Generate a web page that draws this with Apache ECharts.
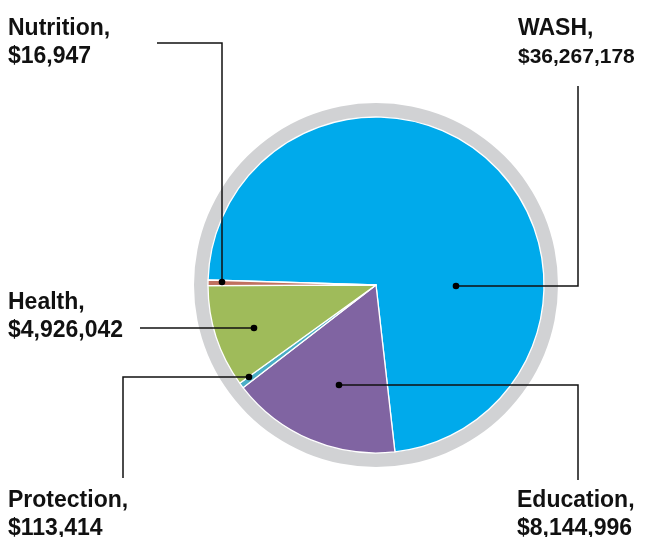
<!DOCTYPE html>
<html>
<head>
<meta charset="utf-8">
<script src="https://cdn.jsdelivr.net/npm/echarts@6/dist/echarts.min.js"></script>
<style>
  html, body { margin: 0; padding: 0; background: #fff; }
  #main { width: 648px; height: 537px; }
</style>
</head>
<body>
<div id="main"></div>
<script>
// funding by sector, clockwise from the left edge
const categories = ['WASH', 'Education', 'Protection', 'Health', 'Nutrition'];
const amounts = [36267178, 8144996, 113414, 4926042, 16947];
const sliceColors = ['#00aaeb', '#8064a2', '#4aaec6', '#9fbb5a', '#c0705f'];

// where each label block sits (top-left)
const labelSpots = {
  WASH: [518, 15],
  Education: [517, 487],
  Protection: [8, 487],
  Health: [8, 289],
  Nutrition: [8, 15]
};

// leader lines: polyline points, last point gets the dot
const callouts = [
  [[578, 86], [578, 286], [456, 286]],
  [[578, 480], [578, 385], [339, 385]],
  [[123, 478], [123, 377], [249, 377]],
  [[140, 328], [254, 328]],
  [[157, 43], [222, 43], [222, 282]]
];

const fmt = v => '$' + v.toLocaleString('en-US');
const FONT = 'Liberation Sans, Arial, sans-serif';

var myChart = echarts.init(document.getElementById('main'));

const graphics = [];
callouts.forEach(pts => {
  graphics.push({
    type: 'polyline',
    shape: { points: pts },
    style: { stroke: '#111', lineWidth: 1.5, fill: null },
    z: 100
  });
  const end = pts[pts.length - 1];
  graphics.push({
    type: 'circle',
    shape: { cx: end[0], cy: end[1], r: 3.3 },
    style: { fill: '#000' },
    z: 101
  });
});

var option = {
  animation: false,
  graphic: graphics,
  series: [
    {
      // grey outer ring
      type: 'pie',
      center: [376, 285],
      radius: [166, 182],
      silent: true,
      label: { show: false },
      labelLine: { show: false },
      itemStyle: { color: '#d1d2d4' },
      data: [{ value: 1, name: 'ring' }],
      z: 1
    },
    {
      type: 'pie',
      center: [376, 285],
      radius: 168,
      startAngle: 178.3,
      clockwise: true,
      minAngle: 1.9,
      avoidLabelOverlap: false,
      itemStyle: { borderColor: '#fff', borderWidth: 1.3 },
      data: categories.map((c, i) => ({
        name: c,
        value: amounts[i],
        itemStyle: { color: sliceColors[i] }
      })),
      label: {
        show: true,
        position: 'outside',
        fontFamily: FONT,
        fontWeight: 'bold',
        color: '#111',
        formatter: p => '{n|' + p.name + ',}\n{' + (p.name === 'WASH' ? 'w' : 'v') + '|' + fmt(p.value) + '}',
        rich: {
          n: { fontSize: 23, fontWeight: 'bold', lineHeight: 28, color: '#111', fontFamily: FONT },
          v: { fontSize: 23, fontWeight: 'bold', lineHeight: 28, color: '#111', fontFamily: FONT },
          w: { fontSize: 21, fontWeight: 'bold', lineHeight: 28, color: '#111', fontFamily: FONT }
        }
      },
      labelLine: { show: false },
      labelLayout: function (params) {
        const spot = labelSpots[categories[params.dataIndex]];
        return { x: spot[0], y: spot[1], align: 'left', verticalAlign: 'top' };
      },
      z: 2
    }
  ]
};

myChart.setOption(option);
</script>
</body>
</html>
